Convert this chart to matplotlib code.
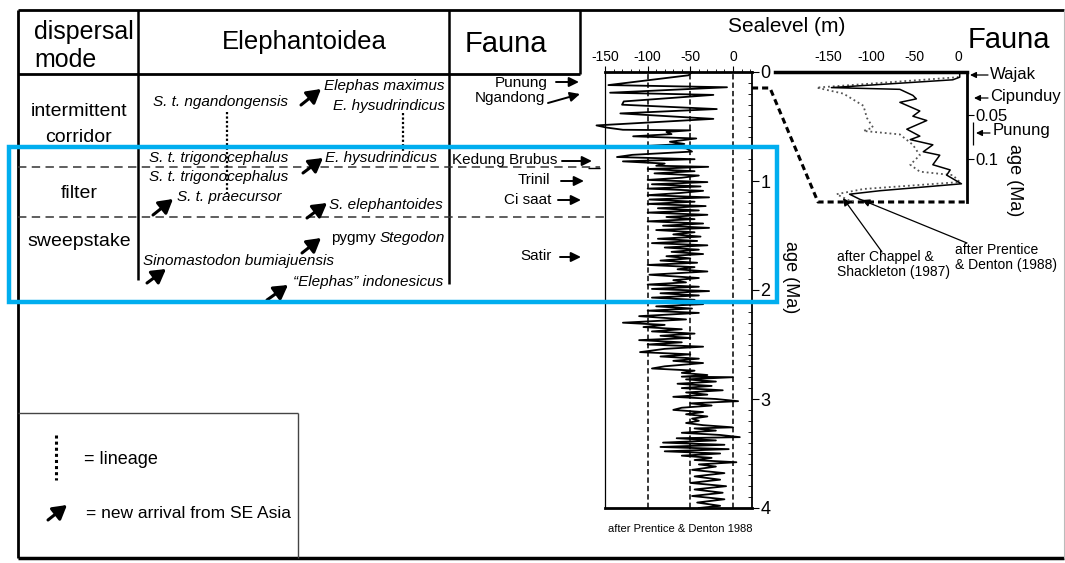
import matplotlib
matplotlib.use('Agg')
import matplotlib.pyplot as plt
from matplotlib.patches import Rectangle
from matplotlib.ticker import MultipleLocator

plt.rcParams['font.family'] = ['Liberation Sans', 'DejaVu Sans']
plt.rcParams['axes.unicode_minus'] = False

# ---------------- data ----------------
# Sea level record (after Prentice & Denton 1988), age in Ma, level in m
sl_age = [0.00, 0.03, 0.12, 0.14, 0.19, 0.21, 0.27, 0.30, 0.34, 0.38, 0.43, 0.49, 0.51, 0.53,
          0.535, 0.55, 0.57, 0.59, 0.61, 0.64, 0.66, 0.68, 0.70, 0.73, 0.76, 0.78, 0.80, 0.82,
          0.84, 0.86, 0.87, 0.89, 0.91, 0.93, 0.95, 0.97, 0.99, 1.01, 1.03, 1.05, 1.07, 1.09,
          1.11, 1.13, 1.15, 1.17, 1.19, 1.21, 1.23, 1.25, 1.27, 1.29, 1.31, 1.33, 1.35, 1.37,
          1.39, 1.41, 1.43, 1.45, 1.47, 1.49, 1.51, 1.53, 1.55, 1.57, 1.59, 1.61, 1.63, 1.65,
          1.67, 1.69, 1.71, 1.73, 1.75, 1.77, 1.79, 1.81, 1.83, 1.86, 1.89, 1.91, 1.93, 1.95,
          1.97, 1.99, 2.01, 2.03, 2.05, 2.07, 2.09, 2.11, 2.13, 2.15, 2.17, 2.19, 2.21, 2.24,
          2.27, 2.30, 2.32, 2.34, 2.36, 2.38, 2.40, 2.42, 2.44, 2.46, 2.48, 2.50, 2.52, 2.54,
          2.57, 2.59, 2.61, 2.63, 2.65, 2.67, 2.70, 2.72, 2.74, 2.76, 2.78, 2.795, 2.80, 2.82,
          2.84, 2.86, 2.88, 2.90, 2.92, 2.94, 2.96, 2.98, 3.00, 3.02, 3.04, 3.06, 3.08, 3.10,
          3.12, 3.14, 3.16, 3.18, 3.20, 3.22, 3.24, 3.26, 3.27, 3.29, 3.31, 3.33, 3.35, 3.36,
          3.38, 3.40, 3.42, 3.44, 3.46, 3.48, 3.50, 3.52, 3.54, 3.56, 3.58, 3.60, 3.62, 3.65,
          3.68, 3.71, 3.74, 3.77, 3.80, 3.83, 3.86, 3.89, 3.92, 3.95, 3.98, 4.00]
sl_level = [-48, -52, -146, -7, -144, -23, -128, -130, -19, -132, -23, -160, -148, -129,
            -50, -78, -72, -117, -43, -74, -57, -105, -55, -48, -118, -136, -45, -129,
            -80, -90, -29, -100, -45, -92, -40, -60, -100, -30, -95, -38, -100, -35,
            -62, -100, -28, -98, -45, -100, -32, -88, -40, -100, -30, -78, -45, -100,
            -35, -82, -28, -90, -45, -70, -38, -88, -42, -95, -30, -80, -40, -72,
            -35, -78, -50, -85, -42, -100, -45, -65, -30, -98, -40, -70, -55, -100,
            -40, -95, -28, -85, -40, -95, -45, -100, -35, -90, -48, -100, -40, -110,
            -55, -129, -80, -105, -60, -95, -45, -85, -50, -110, -60, -100, -35, -80,
            -109, -50, -85, -40, -70, -35, -80, -95, -45, -60, -30, -60, 0, -55,
            -20, -65, -25, -60, -12, -55, -30, -70, -20, 6, -50, -25, -60, -70,
            -35, -55, -30, -48, -40, -55, -35, 0, -45, -20, -60, -15, 8, -66,
            -20, -82, -10, -85, -5, -80, -15, -60, -25, -45, 4, -40, -20, -48,
            -10, -45, -15, -50, -8, -45, -12, -48, -10, -42, -15, -40]

# Inset: last 0.15 Ma
pd_age = [0.000, 0.006, 0.009, 0.018, 0.020, 0.027, 0.031, 0.035, 0.045, 0.051, 0.056, 0.066,
          0.074, 0.078, 0.084, 0.092, 0.096, 0.107, 0.113, 0.119, 0.129, 0.137, 0.141, 0.147, 0.151]
pd_level = [2, 2, -6, -146, -67, -52, -48, -67, -44, -52, -36, -59,
            -44, -55, -29, -40, -21, -29, -9, -13, 4, -90, -125, -113, -101]
cs_age = [0.000, 0.006, 0.018, 0.025, 0.039, 0.053, 0.064, 0.068, 0.072, 0.084, 0.096, 0.107,
          0.115, 0.119, 0.127, 0.135, 0.141, 0.147, 0.151]
cs_level = [2, 0, -163, -132, -109, -105, -98, -109, -67, -52, -44, -55,
            -44, -6, 2, -109, -140, -128, -120]

sl_xticks = [-150, -100, -50, 0]
sl_yticks = [0, 1, 2, 3, 4]
inset_yticks = [0.05, 0.1]
inset_yticklabels = ['0.05', '0.1']
sl_reflines = [-100, -50, 0]

headers = ['dispersal', 'mode', 'Elephantoidea', 'Fauna']
dispersal_modes = ['intermittent', 'corridor', 'filter', 'sweepstake']
species = ['Elephas maximus', 'S. t. ngandongensis', 'E. hysudrindicus',
           'S. t. trigonocephalus', 'E. hysudrindicus', 'S. t. trigonocephalus',
           'S. t. praecursor', 'S. elephantoides', 'Stegodon',
           'Sinomastodon bumiajuensis', '\u201cElephas\u201d indonesicus']
fauna_left = ['Punung', 'Ngandong', 'Kedung Brubus', 'Trinil', 'Ci saat', 'Satir']
fauna_right = ['Wajak', 'Cipunduy', 'Punung']

# ---------------- layout ----------------
W, H = 1065, 563
fig = plt.figure(figsize=(W / 100, H / 100), dpi=100)
bg = fig.add_axes([0, 0, 1, 1])
bg.set_xlim(0, W)
bg.set_ylim(H, 0)
bg.axis('off')


def px_axes(x0, y0, x1, y1):
    return fig.add_axes([x0 / W, 1 - y1 / H, (x1 - x0) / W, (y1 - y0) / H])


def line(xs, ys, **kw):
    kw.setdefault('color', 'k')
    kw.setdefault('solid_capstyle', 'butt')
    bg.plot(xs, ys, **kw)


def big_arrow(x0, y0, x1, y1):
    bg.annotate('', xy=(x1, y1), xytext=(x0, y0),
                arrowprops=dict(arrowstyle='-|>,head_length=0.55,head_width=0.32',
                                color='k', lw=2.2, mutation_scale=15, shrinkA=0, shrinkB=0))


def small_arrow(x0, y0, x1, y1, lw=1.4, ms=13):
    bg.annotate('', xy=(x1, y1), xytext=(x0, y0),
                arrowprops=dict(arrowstyle='-|>,head_length=0.45,head_width=0.22',
                                color='k', lw=lw, mutation_scale=ms, shrinkA=0, shrinkB=0))


# outer frame
line([18, 1064], [10, 10], lw=2)
line([18, 18], [10, 558], lw=2)
line([18, 1064], [558, 558], lw=2.5)
line([1064, 1064], [10, 558], lw=0.8, color='#bbbbbb')
# header row
line([18, 580], [74, 74], lw=2)
line([138, 138], [10, 280], lw=1.8)
line([449, 449], [10, 284], lw=1.8)
line([580, 580], [10, 74], lw=1.8)
# dashed dispersal boundaries
line([18, 600], [167, 167], lw=1.1, ls=(0, (5.5, 3.5)), color='#333333')
line([18, 605], [217, 217], lw=1.1, ls=(0, (5.5, 3.5)), color='#333333')
# legend box
line([18, 298], [413, 413], lw=1.0, color='#444444')
line([298, 298], [413, 558], lw=1.0, color='#444444')

# header texts
bg.text(34, 32, headers[0], ha='left', va='center', fontsize=18)
bg.text(34, 60, headers[1], ha='left', va='center', fontsize=18)
bg.text(304, 42, headers[2], ha='center', va='center', fontsize=18.5)
bg.text(506, 44, headers[3], ha='center', va='center', fontsize=21)

# dispersal mode labels
for s, y in zip(dispersal_modes, [111, 138, 194, 242]):
    bg.text(79, y, s, ha='center', va='center', fontsize=14)

# species labels
sp_pos = [(445, 86, 'right'), (153, 102, 'left'), (445, 106, 'right'),
          (149, 158, 'left'), (325, 158, 'left'), (149, 177, 'left'),
          (177, 197, 'left'), (329, 205, 'left'), (445, 238, 'right'),
          (143, 261, 'left'), (443, 282, 'right')]
sp_text = []
for s, (x, y, ha) in zip(species, sp_pos):
    sp_text.append(bg.text(x, y, s, ha=ha, va='center', fontsize=11, style='italic'))
# "pygmy" upright before italic Stegodon
bg.annotate('pygmy', xy=(0, 0.5), xycoords=sp_text[8], xytext=(-3, 0),
            textcoords='offset points', ha='right', va='center', fontsize=11)

# lineage dotted lines
line([227, 227], [112, 193], lw=1.6, ls=(0, (1, 1)))
line([403, 403], [113, 152], lw=1.6, ls=(0, (1, 1)))

# new arrival arrows
for (x0, y0, x1, y1) in [(301, 105, 321, 89), (303, 173, 323, 158), (153, 215, 173, 199),
                         (307, 218, 327, 203), (302, 253, 321, 238), (147, 283, 166, 269),
                         (267, 300, 288, 285)]:
    big_arrow(x0, y0, x1, y1)

# left fauna
fl_pos = [(548, 83), (545, 98), (557, 160), (550, 180), (551, 200), (552, 256)]
for s, (x, y) in zip(fauna_left, fl_pos):
    bg.text(x, y, s, ha='right', va='center', fontsize=11)
for (x0, y0, x1, y1) in [(556, 82, 579, 82), (548, 103, 580, 94), (562, 161, 592, 161),
                         (561, 181, 584, 181), (558, 200, 581, 200), (560, 257, 581, 257)]:
    small_arrow(x0, y0, x1, y1)
line([588, 600], [168, 168], lw=1.0)

# legend content
line([56, 56], [435, 480], lw=2.2, ls=(0, (1, 1)))
bg.text(84, 459, '= lineage', ha='left', va='center', fontsize=13)
big_arrow(48, 520, 67, 505)
bg.text(86, 514, '= new arrival from SE Asia', ha='left', va='center', fontsize=12.5)

# ---------------- sea level main panel ----------------
sl = px_axes(605, 72, 752, 508)
sl.patch.set_visible(False)
sl.set_xlim(-150, 22.3)
sl.set_ylim(4, 0)
for v in sl_reflines:
    sl.axvline(v, color='k', lw=1.1, ls=(0, (3.5, 2)))
sl.plot(sl_level, sl_age, color='k', lw=1.3, clip_on=False)
sl.xaxis.tick_top()
sl.set_xticks(sl_xticks)
sl.xaxis.set_minor_locator(MultipleLocator(10))
sl.tick_params(axis='x', which='major', direction='out', length=4, labelsize=10, pad=2)
sl.tick_params(axis='x', which='minor', direction='out', length=2.5)
sl.yaxis.tick_right()
sl.set_yticks(sl_yticks)
sl.yaxis.set_minor_locator(MultipleLocator(0.1))
sl.tick_params(axis='y', which='major', direction='out', length=5, labelsize=13, pad=1)
sl.tick_params(axis='y', which='minor', direction='in', length=3)
sl.spines['left'].set_linewidth(0.9)
sl.spines['top'].set_linewidth(2)
sl.spines['right'].set_linewidth(1.3)
sl.spines['bottom'].set_linewidth(2)

bg.text(787, 27, 'Sealevel (m)', ha='center', va='center', fontsize=15)
bg.text(791, 277, 'age (Ma)', ha='center', va='center', fontsize=13, rotation=270)
bg.text(680, 529, 'after Prentice & Denton 1988', ha='center', va='center', fontsize=8)

# connection to inset
line([752, 770, 818, 967], [88, 88, 202, 202], lw=2.2, ls=(0, (2, 1.3)))

# ---------------- inset (last 0.15 Ma) ----------------
ins = px_axes(775, 72, 967, 202)
ins.patch.set_visible(False)
ins.set_xlim(-211, 10.4)
ins.set_ylim(0.15, 0)
ins.plot(cs_level, cs_age, color='#555555', ls=':', lw=1.3)
ins.plot(pd_level, pd_age, color='k', lw=1.1)
ins.xaxis.tick_top()
ins.set_xticks(sl_xticks)
ins.tick_params(axis='x', length=0, labelsize=10, pad=6)
ins.yaxis.tick_right()
ins.set_yticks(inset_yticks)
ins.set_yticklabels(inset_yticklabels)
ins.tick_params(axis='y', direction='out', length=5, labelsize=12, pad=1)
ins.spines['left'].set_visible(False)
ins.spines['bottom'].set_visible(False)
ins.spines['top'].set_linewidth(2.5)
ins.spines['right'].set_linewidth(2)

bg.text(968, 40, 'Fauna', ha='left', va='center', fontsize=21)
bg.text(1014, 180, 'age (Ma)', ha='center', va='center', fontsize=13, rotation=270)
fr_pos = [(990, 74), (990, 97), (993, 130)]
for s, (x, y) in zip(fauna_right, fr_pos):
    bg.text(x, y, s, ha='left', va='center', fontsize=12)
small_arrow(988, 75, 970, 75, lw=0.9, ms=8)
small_arrow(988, 98, 974, 98, lw=0.9, ms=8)
small_arrow(990, 133, 976, 133, lw=0.9, ms=8)
line([973, 973], [122, 145], lw=0.9)

bg.annotate('', xy=(843, 198), xytext=(882, 252),
            arrowprops=dict(arrowstyle='-|>,head_length=0.5,head_width=0.25', lw=0.9,
                            mutation_scale=9, color='k', shrinkA=0, shrinkB=0))
bg.annotate('', xy=(862, 200), xytext=(967, 243),
            arrowprops=dict(arrowstyle='-|>,head_length=0.5,head_width=0.25', lw=0.9,
                            mutation_scale=9, color='k', shrinkA=0, shrinkB=0))
bg.text(837, 250, 'after Chappel &\nShackleton (1987)', ha='left', va='top', fontsize=10,
        linespacing=1.1)
bg.text(955, 243, 'after Prentice\n& Denton (1988)', ha='left', va='top', fontsize=10,
        linespacing=1.1)

# ---------------- highlight box on top ----------------
top = fig.add_axes([0, 0, 1, 1])
top.set_xlim(0, W)
top.set_ylim(H, 0)
top.axis('off')
top.patch.set_visible(False)
top.add_patch(Rectangle((9, 147), 768, 155, fill=False, ec='#00AEEF', lw=3.2))

fig.savefig('out.png', dpi=100)
